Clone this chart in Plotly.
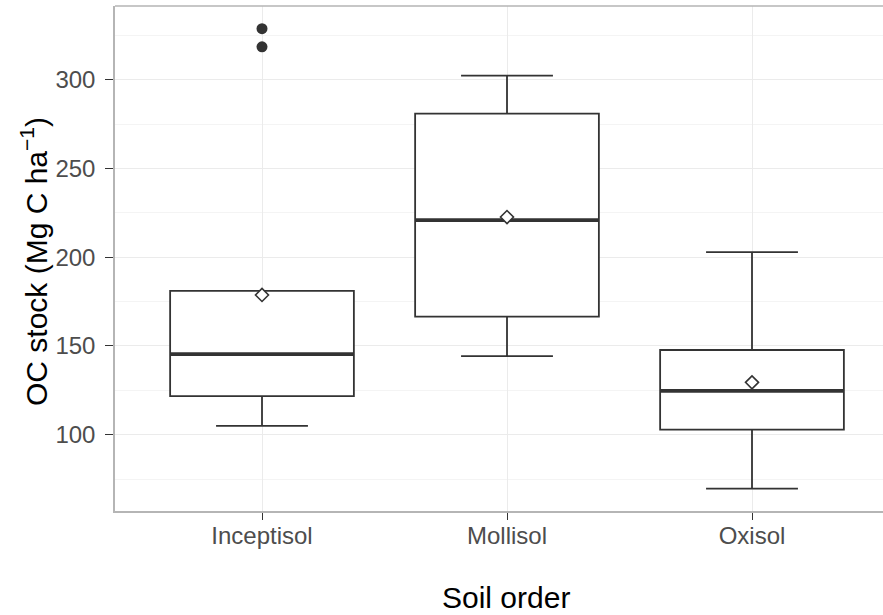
import plotly.graph_objects as go

# ---- data ----
categories = ["Inceptisol", "Mollisol", "Oxisol"]
lower_whisker = [105.0, 144.3, 69.6]
q1_values = [121.7, 166.5, 102.9]
median_values = [145.4, 220.9, 124.7]
q3_values = [181.0, 280.9, 147.7]
upper_whisker = [181.0, 302.3, 202.8]
mean_values = [178.7, 222.6, 129.5]
outlier_category = ["Inceptisol", "Inceptisol"]
outlier_values = [328.7, 318.5]
y_tick_values = [100, 150, 200, 250, 300]

# ---- style ----
FONT = "Liberation Sans, Arial, Helvetica, sans-serif"
DARK = "#333333"
BOX_W = 0.75
W, H = 883, 615
M_L, M_T, M_B, M_R = 115, 6, 104, 0

pos = list(range(len(categories)))
cat_pos = {c: i for i, c in enumerate(categories)}

fig = go.Figure()

fig.add_trace(go.Box(
    x=pos,
    q1=q1_values, median=median_values, q3=q3_values,
    lowerfence=lower_whisker, upperfence=upper_whisker,
    width=BOX_W, whiskerwidth=0.5,
    fillcolor="white",
    line=dict(color=DARK, width=1.8),
    boxpoints=False, showlegend=False, hoverinfo="skip",
))

# thicker median line (ggplot fatten)
mx, my = [], []
for p, m in zip(pos, median_values):
    mx += [p - BOX_W / 2, p + BOX_W / 2, None]
    my += [m, m, None]
fig.add_trace(go.Scatter(x=mx, y=my, mode="lines",
                         line=dict(color=DARK, width=3.8),
                         showlegend=False, hoverinfo="skip"))

# means
fig.add_trace(go.Scatter(x=pos, y=mean_values, mode="markers",
                         marker=dict(symbol="diamond", size=10, color="white",
                                     line=dict(color=DARK, width=1.6)),
                         showlegend=False, hoverinfo="skip"))

# outliers
fig.add_trace(go.Scatter(x=[cat_pos[c] for c in outlier_category], y=outlier_values,
                         mode="markers",
                         marker=dict(symbol="circle", size=11, color=DARK),
                         showlegend=False, hoverinfo="skip"))

plot_w = W - M_L - M_R
plot_h = H - M_T - M_B
x_left = -0.6
unit_px = 245.0
x_right = x_left + plot_w / unit_px

fig.update_layout(
    width=W, height=H,
    margin=dict(l=M_L, r=M_R, t=M_T, b=M_B, autoexpand=False),
    paper_bgcolor="white", plot_bgcolor="white",
    font=dict(family=FONT, size=24, color="#4D4D4D"),
    xaxis=dict(
        range=[x_left, x_right], tickvals=pos, ticktext=categories,
        showgrid=True, gridcolor="#EBEBEB", gridwidth=1,
        zeroline=False, showline=True, linecolor="#B5B5B5", linewidth=1.5,
        ticks="outside", ticklen=7, tickcolor=DARK, tickwidth=1.2,
        tickfont=dict(family=FONT, size=24, color="#4D4D4D"),
        ticklabelstandoff=-5,
        fixedrange=True,
    ),
    yaxis=dict(
        range=[57.0, 341.5], tickvals=y_tick_values,
        showgrid=True, gridcolor="#EBEBEB", gridwidth=1,
        minor=dict(tickvals=[75, 125, 175, 225, 275, 325], showgrid=True,
                   gridcolor="#F4F4F4", gridwidth=1),
        zeroline=False, showline=True, linecolor="#B5B5B5", linewidth=1.5,
        ticks="outside", ticklen=8, tickcolor=DARK, tickwidth=1.2,
        tickfont=dict(family=FONT, size=24, color="#4D4D4D"),
        ticklabelstandoff=5,
        fixedrange=True,
    ),
    shapes=[dict(type="line", xref="paper", yref="paper", x0=0, x1=1, y0=1, y1=1,
                 line=dict(color="#B5B5B5", width=1.5))],
    annotations=[
        dict(text="Soil order", xref="paper", yref="paper",
             x=(506 - M_L) / plot_w, y=(H - M_B - 597) / plot_h,
             xanchor="center", yanchor="middle", showarrow=False,
             font=dict(family=FONT, size=30, color="black")),
        dict(text="OC stock (Mg C ha<sup>\u22121</sup>)", xref="paper", yref="paper",
             x=(34 - M_L) / plot_w, y=(H - M_B - 262) / plot_h, textangle=-90,
             xanchor="center", yanchor="middle", showarrow=False,
             font=dict(family=FONT, size=30, color="black")),
    ],
)

fig.write_html("out.html")
